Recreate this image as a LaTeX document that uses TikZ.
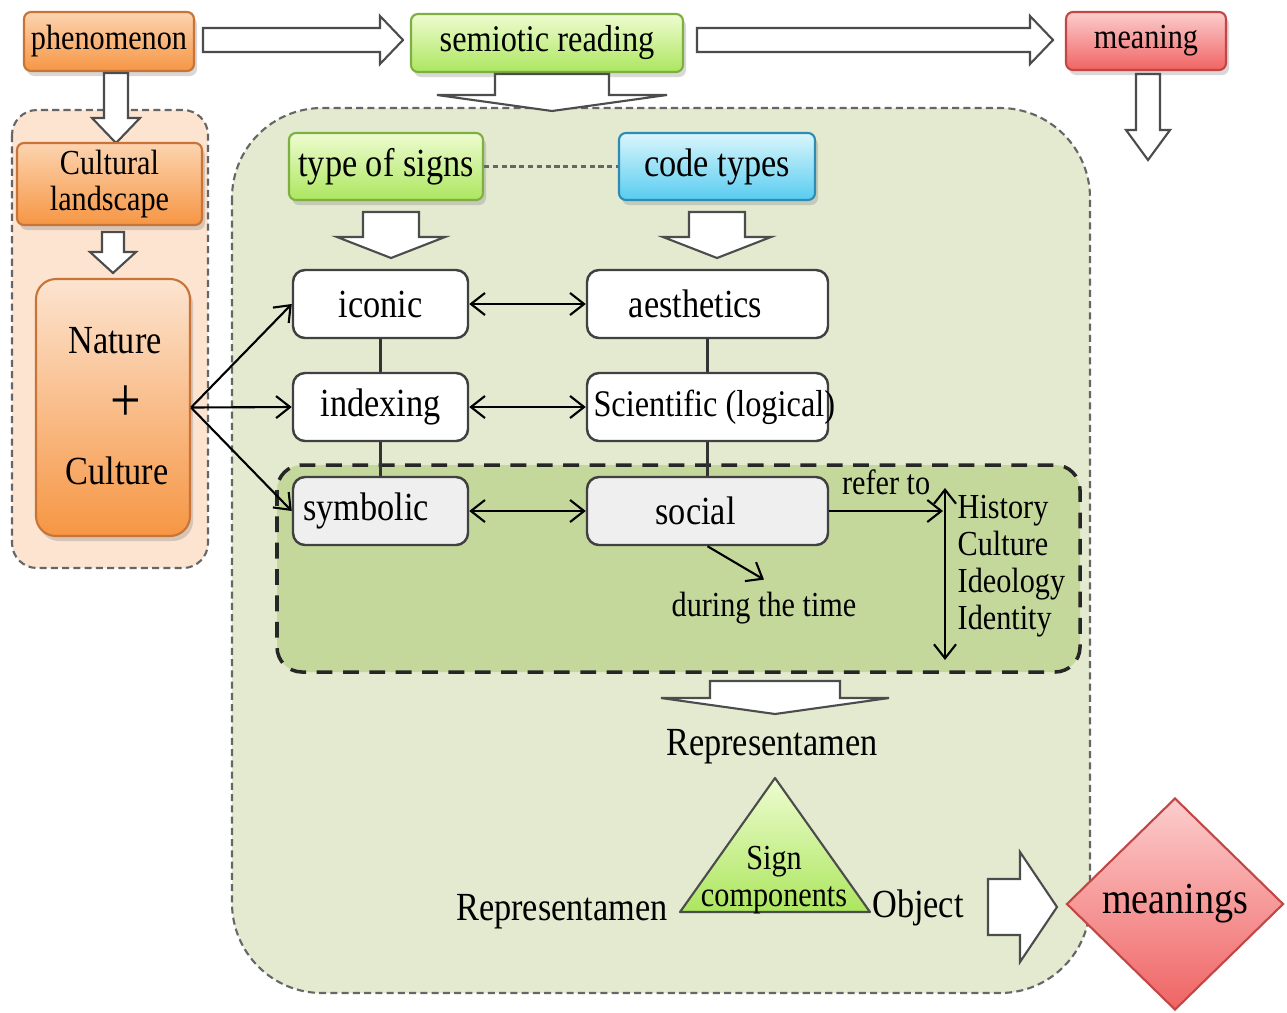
\documentclass[tikz,border=0pt]{standalone}
\usepackage{fontspec}
\setmainfont{Liberation Serif}[FakeStretch=0.86]
\usetikzlibrary{arrows.meta,shadows,shapes.geometric}

\definecolor{orTop}{RGB}{252,212,176}
\definecolor{orBot}{RGB}{246,150,68}
\definecolor{orEdge}{RGB}{200,115,55}
\definecolor{grTop}{RGB}{238,252,208}
\definecolor{grBot}{RGB}{172,230,95}
\definecolor{grEdge}{RGB}{125,175,65}
\definecolor{blTop}{RGB}{218,246,252}
\definecolor{blBot}{RGB}{88,204,240}
\definecolor{blEdge}{RGB}{45,140,180}
\definecolor{rdTop}{RGB}{252,205,205}
\definecolor{rdBot}{RGB}{240,100,100}
\definecolor{rdEdge}{RGB}{195,70,70}
\definecolor{peach}{RGB}{252,228,208}
\definecolor{olive}{RGB}{227,234,207}
\definecolor{oliveDk}{RGB}{197,216,156}
\definecolor{socialgray}{RGB}{239,239,239}

\newcommand\txtsmall{\fontsize{10}{10.5}\selectfont}
\newcommand\txtsem{\fontsize{10.7}{11}\selectfont}
\newcommand\txtmid{\fontsize{11.35}{12}\selectfont}
\newcommand\txtbig{\fontsize{12.6}{14}\selectfont}

% hollow block arrows: (centre x, top y)(body half width : body length : head half width : head length)
\def\hollowdown[#1](#2,#3)(#4:#5:#6:#7){\draw[#1] ({#2-#4},#3) -- ({#2+#4},#3) -- ({#2+#4},{#3+#5}) -- ({#2+#6},{#3+#5}) -- (#2,{#3+#5+#7}) -- ({#2-#6},{#3+#5}) -- ({#2-#4},{#3+#5}) -- cycle;}
% (left x, centre y)(body half height : body length : head half height : head length)
\def\hollowright[#1](#2,#3)(#4:#5:#6:#7){\draw[#1] (#2,{#3-#4}) -- ({#2+#5},{#3-#4}) -- ({#2+#5},{#3-#6}) -- ({#2+#5+#7},#3) -- ({#2+#5},{#3+#6}) -- ({#2+#5},{#3+#4}) -- (#2,{#3+#4}) -- cycle;}

\tikzset{
  blockarrow/.style={fill=white, draw=black!70, line width=0.6pt, line join=miter},
  panel/.style={draw=black!60, dash pattern=on 2pt off 1.2pt, line width=0.6pt},
  topbox/.style={rounded corners=0.7mm, line width=0.6pt, align=center, inner sep=0pt,
    drop shadow={shadow xshift=0.3mm, shadow yshift=-0.5mm, opacity=0.3}},
  orangebox/.style={topbox, draw=orEdge, top color=orTop, bottom color=orBot},
  greenbox/.style={topbox, draw=grEdge, top color=grTop, bottom color=grBot},
  bluebox/.style={topbox, draw=blEdge, top color=blTop, bottom color=blBot},
  redbox/.style={topbox, draw=rdEdge, top color=rdTop, bottom color=rdBot},
  signbox/.style={draw=black!75, line width=0.7pt, rounded corners=1.2mm, fill=white,
    minimum width=17.5mm, minimum height=6.8mm, inner sep=0pt, font=\txtmid},
  codebox/.style={signbox, minimum width=24.1mm},
  link/.style={-{Straight Barb[length=1.4mm,width=2.2mm]}, line width=0.6pt},
  twoway/.style={{Straight Barb[length=1.4mm,width=2.2mm]}-{Straight Barb[length=1.4mm,width=2.2mm]}, line width=0.6pt},
}

\begin{document}
\begin{tikzpicture}[x=0.1mm, y=-0.1mm]
		%%%%% START %%%%%
		\useasboundingbox (0,0) rectangle (1287,1012);
		\fill[white] (0,0) rectangle (1287,1012);
		
		% panels
		\draw[panel, fill=olive, rounded corners=9mm] (232,108) rectangle (1090,993);
		\draw[panel, fill=peach, rounded corners=2.5mm] (12,110) rectangle (208,568);
		\draw[fill=oliveDk, draw=black!85, line width=1pt, dash pattern=on 4.5pt off 3pt, rounded corners=2.5mm] (277,465) rectangle (1080,672);
		
		% top row
		\node[orangebox, minimum width=17mm, minimum height=5.9mm, font=\txtsmall] (phen) at (109,41.5) {phenomenon};
		\node[greenbox, minimum width=27.2mm, minimum height=5.8mm, font=\txtsem] (semio) at (547,43) {semiotic reading};
		\node[redbox, minimum width=16mm, minimum height=5.8mm, font=\txtsmall] (mean) at (1146,41) {meaning};
		
		\hollowright[blockarrow](203,40)(12:177:24:23);
		\hollowright[blockarrow](697,40)(12:333:24:23);
		\hollowdown[blockarrow](1148,74)(12:56:22:30);
		\hollowdown[blockarrow](552,74)(57:21:115:16);
		
		% left column
		\hollowdown[blockarrow](116,73)(12:45:24:25);
		\node[orangebox, minimum width=18.5mm, minimum height=8.2mm, font=\txtsmall] (cultl) at (109.5,184) {Cultural\\landscape};
		\hollowdown[blockarrow](113,232)(11:20:23:21);
		\node[orangebox, top color=peach, rounded corners=2mm, minimum width=15.4mm, minimum height=25.7mm] (natcul) at (113,407.5) {};
		\node[font=\txtmid] (nat) at (115,341) {Nature};
		\node[font=\fontsize{18}{18}\selectfont] (plus) at (126,404) {+};
		\node[font=\txtmid] (cul) at (117,471) {Culture};
		
		% signs and codes
		\node[greenbox, minimum width=19.4mm, minimum height=6.7mm, font=\txtmid] (tsigns) at (386,166.5) {type of signs};
		\node[bluebox, minimum width=19.6mm, minimum height=6.7mm, font=\txtmid] (ctypes) at (717,166.5) {code types};
		\draw[black!60, dash pattern=on 1.5pt off 1pt, line width=0.6pt] (tsigns.east) -- (ctypes.west);
		\hollowdown[blockarrow](391,212)(28:25:54:21);
		\hollowdown[blockarrow](717,212)(28:25:54:21);
		
		\node[signbox] (iconic) at (380.5,304) {iconic};
		\node[signbox] (index) at (380.5,407) {indexing};
		\node[signbox, fill=socialgray, text width=15.5mm, inner xsep=1mm, align=left] (symb) at (380.5,511) {symbolic};
		\node[codebox] (aesth) at (707.5,304) {\hspace*{-2.4mm}aesthetics};
		\node[codebox, font=\txtsem] (scien) at (707.5,407) {\makebox[23.6mm][l]{\hspace*{0.4mm}Scientific (logical)}};
		\node[codebox, fill=socialgray] (social) at (707.5,511) {\hspace*{-2.4mm}social};
		
		\draw[line width=0.6pt, black!80] (iconic) -- (index) -- (symb);
		\draw[line width=0.6pt, black!80] (aesth) -- (scien) -- (social);
		\draw[twoway] (iconic) -- (aesth);
		\draw[twoway] (index) -- (scien);
		\draw[twoway] (symb) -- (social);
		
		\draw[link] (natcul.east) -- (iconic.west);
		\draw[link] (natcul.east) -- (index.west);
		\draw[link] (natcul.east) -- (symb.west);
		
		% social refers to
		\coordinate (refTop) at (945,488);
		\coordinate (refBot) at (945,660);
		\coordinate (refHit) at (943,511);
		\draw[twoway] (refTop) -- (refBot);
		\draw[link] (social.east) -- node[above=1pt, font=\txtsmall] (refer) {refer to} (refHit);
		\node[anchor=west, align=left, font=\txtsmall, inner sep=0pt] (topics) at (957,566) {History\\Culture\\Ideology\\Identity};
		\node[font=\txtsmall] (during) at (764,608) {during the time};
		\draw[link] (social.south) -- (during.north);
		
		% sign components
		\hollowdown[blockarrow](775,681)(65:17:114:16);
		\node[font=\txtmid] (repTop) at (772,747) {Representamen};
		\shade[draw=black!70, line width=0.6pt, top color=grTop, bottom color=grBot, line join=round] (775,778) -- (870,912) -- (680,912) -- cycle;
		\node[font=\txtsmall, align=center, inner sep=0pt] (sign) at (774,880) {Sign\\components};
		\node[font=\txtmid] (repLeft) at (562,912) {Representamen};
		\node[font=\txtmid] (object) at (918,908) {Object};
		
		\hollowright[blockarrow](988,907)(28:32:55:37);
		\node[diamond, draw=rdEdge, line width=0.6pt, top color=rdTop, bottom color=rdBot, minimum width=21.7mm, minimum height=21.2mm, inner sep=0pt, font=\txtbig] (meanings) at (1175,904) {meanings};
		
		%%%%% END %%%%%
\end{tikzpicture}
\end{document}
